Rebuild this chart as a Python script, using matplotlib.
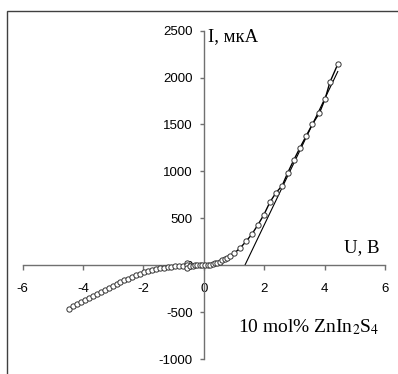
import matplotlib.pyplot as plt
from matplotlib.patches import Rectangle

# I-V curve, U in volts, I in microamps
U_NEG = [-4.45, -4.32, -4.19, -4.06, -3.93, -3.80, -3.67, -3.54, -3.41, -3.28,
         -3.15, -3.02, -2.89, -2.76, -2.63, -2.50, -2.37, -2.24, -2.11, -1.98,
         -1.85, -1.72, -1.59, -1.46, -1.33, -1.20, -1.07, -0.94, -0.81, -0.68,
         -0.56, -0.55, -0.54]
I_NEG = [-460, -437, -414, -392, -370, -348, -326, -304, -282, -261,
         -240, -219, -198, -178, -158, -140, -122, -105, -89, -75,
         -62, -50, -40, -32, -25, -19, -14, -10, -7, -5,
         25, 0, -25]

U_POS = [-0.45, -0.37, -0.29, -0.21, -0.13, -0.05, 0.05, 0.13, 0.21, 0.29,
         0.37, 0.45, 0.54, 0.62, 0.70, 0.78, 0.86, 1.01, 1.20, 1.40,
         1.59, 1.80, 1.99, 2.19, 2.39, 2.60, 2.78, 2.98, 3.19, 3.39,
         3.60, 3.83, 4.02, 4.18, 4.44]
I_POS = [-3, -2, 0, 1, 2, 3, 4, 6, 9, 14,
         22, 30, 40, 52, 66, 80, 96, 130, 183, 255,
         330, 435, 538, 672, 772, 850, 985, 1120, 1254, 1376,
         1504, 1621, 1773, 1951, 2142]

# tangent to the linear part
TAN_U = [1.36, 4.44]
TAN_I = [0, 2064]

X_TICKS = [-6, -4, -2, 0, 2, 4, 6]
Y_TICKS = [-1000, -500, 0, 500, 1000, 1500, 2000, 2500]

u = U_NEG + U_POS
i = I_NEG + I_POS

fig = plt.figure(figsize=(3.98, 3.74), dpi=100)
ax = fig.add_axes([0.057, 0.0393, 0.910, 0.879])

ax.plot(u, i, '-', color='black', lw=1.0, zorder=2)
ax.plot(u, i, 'o', ms=3.8, mfc='white', mec='#333333', mew=0.7, zorder=3)
ax.plot(TAN_U, TAN_I, '-', color='black', lw=0.8, zorder=2)

ax.set_xlim(-6, 6)
ax.set_ylim(-1000, 2500)
ax.set_xticks(X_TICKS)
ax.set_yticks(Y_TICKS)
ax.set_xticklabels([str(t) for t in X_TICKS])
ax.set_yticklabels([str(t) for t in Y_TICKS])

for side in ['top', 'right']:
    ax.spines[side].set_visible(False)
ax.spines['left'].set_position(('data', 0))
ax.spines['bottom'].set_position(('data', 0))
for side in ['left', 'bottom']:
    ax.spines[side].set_color('#707070')
    ax.spines[side].set_linewidth(1.0)

ax.tick_params(axis='x', direction='out', length=3.5, width=1.0, color='#707070',
               pad=9.5, labelsize=9.5)
ax.tick_params(axis='y', direction='out', length=3, width=1.0, color='#707070',
               pad=5, labelsize=9.5)
for lab in ax.get_xticklabels() + ax.get_yticklabels():
    lab.set_family('Liberation Sans')

serif = 'Liberation Serif'
ax.text(0.15, 2440, 'I, мкА', family=serif, fontsize=13.5, ha='left', va='center')
ax.text(4.65, 100, 'U, В', family=serif, fontsize=13.5, ha='left', va='bottom')
ax.text(1.15, -660, r'10 mol% ZnIn$_2$S$_4$', family=serif, fontsize=14,
        ha='left', va='center', math_fontfamily='stix')

# thin frame around the picture
fig.add_artist(Rectangle((7 / 398, -0.1), 1.2, 1 - 11 / 374 + 0.1,
                         transform=fig.transFigure, fill=False,
                         edgecolor='#404040', lw=1.0))

fig.savefig('out.png', dpi=100)
